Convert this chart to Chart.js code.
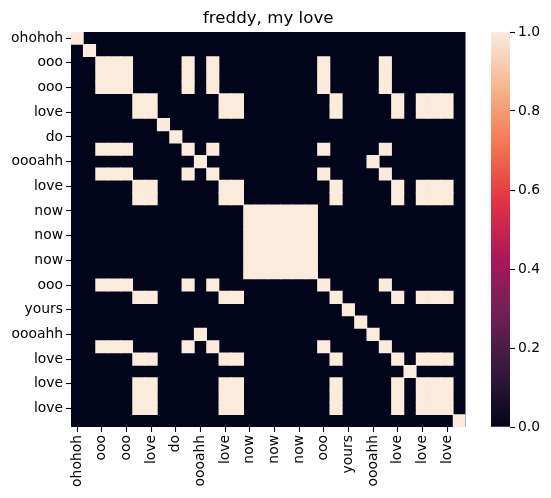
<!DOCTYPE html>
<html>
<head>
<meta charset="utf-8">
<title>freddy, my love</title>
<script src="https://cdn.jsdelivr.net/npm/chart.js@4/dist/chart.umd.js"></script>
<style>
  html, body { margin: 0; padding: 0; background: #fff; }
  #wrap { position: relative; width: 551px; height: 498px; overflow: hidden; }
  canvas { position: absolute; top: 0; }
  #heat { left: 0; }
  #cbar { left: 480px; }
</style>
</head>
<body>
<div id="wrap">
  <canvas id="heat" width="536" height="498"></canvas>
  <canvas id="cbar" width="71" height="498"></canvas>
</div>
<script>
//  lyric tokens, only every second one can be read on the axes
var tokens = [
  'ohohoh', '', 'ooo', 'ooo', 'ooo', 'love', 'love', '',
  'do', 'ooo', 'oooahh', 'ooo', 'love', 'love', 'now', 'now',
  'now', 'now', 'now', 'now', 'ooo', 'love', 'yours', '',
  'oooahh', 'ooo', 'love', '', 'love', 'love', 'love', ''
];

//  self similarity matrix, one string per row, 1 = same word
var cells = [
  '10000000000000000000000000000000',
  '01000000000000000000000000000000',
  '00111000010100000000100001000000',
  '00111000010100000000100001000000',
  '00111000010100000000100001000000',
  '00000110000011000000010000101110',
  '00000110000011000000010000101110',
  '00000001000000000000000000000000',
  '00000000100000000000000000000000',
  '00111000010100000000100001000000',
  '00000000001000000000000010000000',
  '00111000010100000000100001000000',
  '00000110000011000000010000101110',
  '00000110000011000000010000101110',
  '00000000000000111111000000000000',
  '00000000000000111111000000000000',
  '00000000000000111111000000000000',
  '00000000000000111111000000000000',
  '00000000000000111111000000000000',
  '00000000000000111111000000000000',
  '00111000010100000000100001000000',
  '00000110000011000000010000101110',
  '00000000000000000000001000000000',
  '00000000000000000000000100000000',
  '00000000001000000000000010000000',
  '00111000010100000000100001000000',
  '00000110000011000000010000101110',
  '00000000000000000000000000010000',
  '00000110000011000000010000101110',
  '00000110000011000000010000101110',
  '00000110000011000000010000101110',
  '00000000000000000000000000000001'
];

var chart_title = 'freddy, my love';
var colorbar_range = [0, 1];

//  rocket colormap, stops from low to high
var rocket_stops = ['#03051A', '#35193E', '#701F57', '#AD1759', '#E13342', '#F37651', '#F6B48F', '#FAEBDD'];

var font_name = '"DejaVu Sans", sans-serif';

Chart.defaults.font.family = font_name;
Chart.defaults.color = '#000';
Chart.defaults.animation = false;

//  one dataset per row, each cell is a floating bar [row, row + 1]
//  zero cells stay see through, the backdrop below has their colour
var row_sets = cells.map(function(_row, r) {
  return {
    label: 'row ' + r,
    data: tokens.map(function() { return [r, r + 1]; }),
    backgroundColor: function(_ctx) {
      return _row.charAt(_ctx.dataIndex) === '1' ? rocket_stops[rocket_stops.length - 1] : 'rgba(0, 0, 0, 0)';
    },
    borderWidth: 0,
    inflateAmount: 0.4,
    grouped: false,
    barPercentage: 1,
    categoryPercentage: 1
  };
});

//  plot background is the colour of value 0
var plot_backdrop = {
  id: 'plot_backdrop',
  beforeDatasetsDraw: function(_chart) {
    var area = _chart.chartArea;
    _chart.ctx.save();
    _chart.ctx.fillStyle = rocket_stops[0];
    _chart.ctx.fillRect(area.left, area.top, area.width, area.height);
    _chart.ctx.restore();
  }
};

new Chart(document.getElementById('heat').getContext('2d'), {
  type: 'bar',
  data: { labels: tokens.map(function(t, i) { return i; }), datasets: row_sets },
  plugins: [plot_backdrop],
  options: {
    responsive: false,
    devicePixelRatio: 1,
    layout: { padding: { left: 0, right: 70.5, top: 0, bottom: 0 } },
    plugins: {
      legend: { display: false },
      tooltip: { enabled: false },
      title: {
        display: true,
        fullSize: false,
        text: chart_title,
        color: '#000',
        font: { size: 16.67, weight: 'normal', family: font_name },
        padding: { top: 9, bottom: 3 }
      }
    },
    scales: {
      x: {
        type: 'category',
        offset: true,
        border: { display: false },
        grid: { drawOnChartArea: false, tickLength: 5, tickColor: '#000', tickWidth: 1.1, offset: false },
        afterBuildTicks: function(_scale) {
          _scale.ticks = _scale.ticks.filter(function(t) { return t.value % 2 === 0; });
        },
        afterFit: function(_scale) { _scale.height = 71; },
        ticks: {
          autoSkip: false,
          minRotation: 90,
          maxRotation: 90,
          padding: 3,
          font: { size: 13.9 },
          callback: function(v) { return tokens[v]; }
        }
      },
      y: {
        type: 'linear',
        reverse: true,
        min: 0,
        max: tokens.length,
        border: { display: false },
        grid: { drawOnChartArea: false, tickLength: 5, tickColor: '#000', tickWidth: 1.1 },
        afterBuildTicks: function(_scale) {
          var list = [];
          for (var a = 0; a < tokens.length; a += 2) {
            list.push({ value: a + 0.5 });
          }
          _scale.ticks = list;
        },
        afterFit: function(_scale) { _scale.width = 71; },
        ticks: {
          autoSkip: false,
          padding: 3,
          font: { size: 13.9 },
          callback: function(v) { return tokens[Math.floor(v)]; }
        }
      }
    }
  }
});

//  colorbar, one floating bar with the colormap as gradient
new Chart(document.getElementById('cbar').getContext('2d'), {
  type: 'bar',
  data: {
    labels: ['value'],
    datasets: [{
      data: [colorbar_range],
      borderWidth: 0,
      barPercentage: 1,
      categoryPercentage: 1,
      backgroundColor: function(_ctx) {
        var area = _ctx.chart.chartArea;
        if (!area) {
          return rocket_stops[0];
        }
        var grad = _ctx.chart.ctx.createLinearGradient(0, area.bottom, 0, area.top);
        rocket_stops.forEach(function(c, i) {
          grad.addColorStop(i / (rocket_stops.length - 1), c);
        });
        return grad;
      }
    }]
  },
  options: {
    responsive: false,
    devicePixelRatio: 1,
    layout: { padding: { left: 11, right: 0, top: 32, bottom: 71 } },
    plugins: { legend: { display: false }, tooltip: { enabled: false } },
    scales: {
      x: { display: false, offset: true },
      y: {
        position: 'right',
        min: 0,
        max: 1,
        border: { display: false },
        grid: { drawOnChartArea: false, tickLength: 5, tickColor: '#000', tickWidth: 1.1 },
        afterFit: function(_scale) { _scale.width = 41; },
        ticks: {
          stepSize: 0.2,
          padding: 3,
          font: { size: 13.9 },
          callback: function(v) { return v.toFixed(1); }
        }
      }
    }
  }
});
</script>
</body>
</html>
